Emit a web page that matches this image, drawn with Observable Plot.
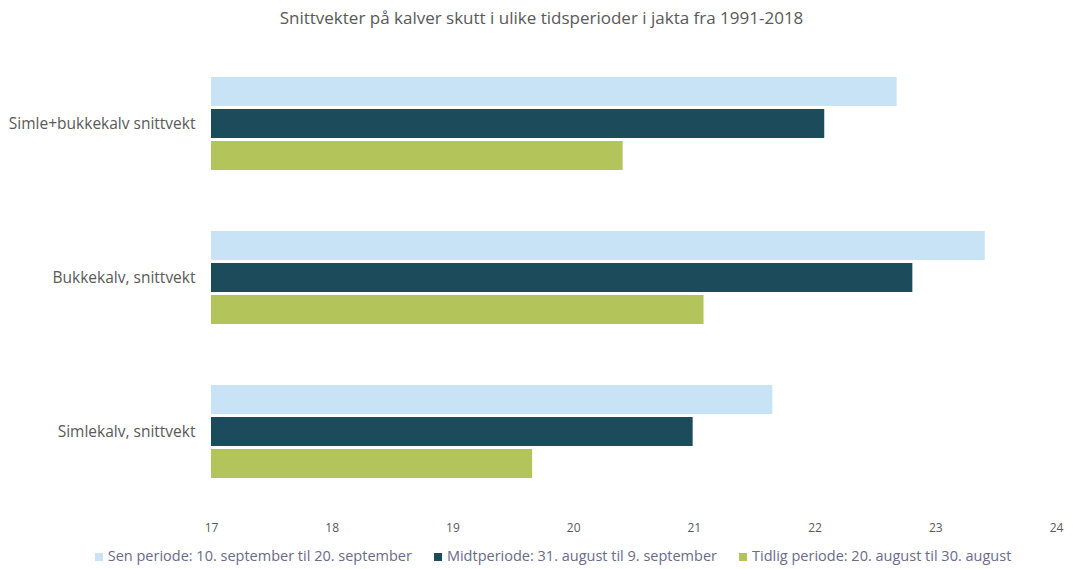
<!DOCTYPE html>
<html>
<head>
<meta charset="utf-8">
<script src="https://cdn.jsdelivr.net/npm/d3@7"></script>
<script src="https://cdn.jsdelivr.net/npm/@observablehq/plot@0.6"></script>
<style>
  html, body { margin: 0; padding: 0; background: #fff; }
  body { width: 1073px; height: 569px; overflow: hidden; font-family: "Open Sans", "Noto Sans", sans-serif; }
  #title { height: 35px; line-height: 35px; text-align: center; font-size: 17px; color: #595959; padding-left: 10px; }
  #legend { display: flex; justify-content: center; gap: 22px; font-size: 14.5px; color: #6a6a8a; margin-top: 6px; padding-left: 33px; }
  #legend span.sw { display: inline-block; width: 8px; height: 8px; margin-right: 5px; }
</style>
</head>
<body>
<div id="title">Snittvekter på kalver skutt i ulike tidsperioder i jakta fra 1991-2018</div>
<div id="chart"></div>
<div id="legend"></div>
<script>
const categories = ["Simle+bukkekalv snittvekt", "Bukkekalv, snittvekt", "Simlekalv, snittvekt"];
const series = [
  "Sen periode: 10. september til 20. september",
  "Midtperiode: 31. august til 9. september",
  "Tidlig periode: 20. august til 30. august"
];
const colors = ["#c8e3f5", "#1c4b5c", "#b3c45a"];
const senValues = [22.68, 23.41, 21.65];
const midtValues = [22.08, 22.81, 20.99];
const tidligValues = [20.41, 21.08, 19.66];
const xTicks = [17, 18, 19, 20, 21, 22, 23, 24];

const allValues = [senValues, midtValues, tidligValues];
const data = [];
categories.forEach((c, i) => {
  series.forEach((s, j) => data.push({category: c, series: s, value: allValues[j][i]}));
});

const chart = Plot.plot({
  width: 1073,
  height: 505,
  marginLeft: 211,
  marginRight: 17,
  marginTop: 40,
  marginBottom: 58,
  style: {fontFamily: "'Open Sans', 'Noto Sans', sans-serif", fontSize: "13px", color: "#595959"},
  x: {domain: [17, 24]},
  fy: {domain: categories, paddingInner: 0.374, paddingOuter: 0},
  y: {domain: series, paddingInner: 0.08, paddingOuter: 0},
  color: {domain: series, range: colors},
  marks: [
    Plot.barX(data, {fy: "category", y: "series", x1: 17, x2: "value", fill: "series"}),
    Plot.axisFy({anchor: "left", tickSize: 0, tickPadding: 16, label: null, fontSize: 15.5, fill: "#595959"}),
    Plot.axisY({ticks: [], label: null}),
    Plot.axisX({ticks: xTicks, tickSize: 0, tickPadding: 43, label: null, fontSize: 12, fill: "#595959", tickFormat: d => String(d)})
  ]
});
document.getElementById("chart").appendChild(chart);

const legend = document.getElementById("legend");
series.forEach((s, j) => {
  const item = document.createElement("div");
  const sw = document.createElement("span");
  sw.className = "sw";
  sw.style.background = colors[j];
  item.appendChild(sw);
  item.appendChild(document.createTextNode(s));
  legend.appendChild(item);
});
</script>
</body>
</html>
